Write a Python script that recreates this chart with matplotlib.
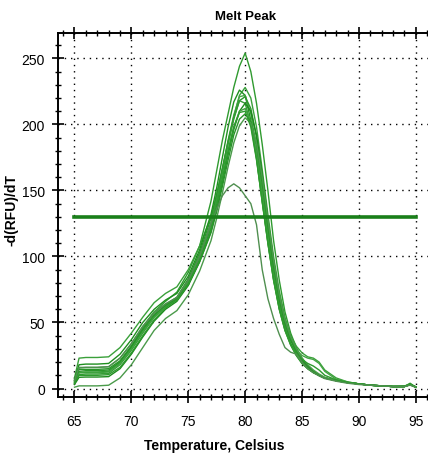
import matplotlib
matplotlib.use("Agg")
import matplotlib.pyplot as plt
from matplotlib.ticker import MultipleLocator

# Temperature grid (Celsius)
temps = [65, 65.4, 66, 67, 68, 69, 70, 71, 72, 73, 74, 75, 76, 77, 77.5, 78, 78.5, 79, 79.5, 80,
         80.5, 81, 81.5, 82, 82.5, 83, 83.5, 84, 84.5, 85, 85.5, 86, 86.5, 87, 88, 89, 90, 91,
         92, 93, 94, 94.5, 95]

# -d(RFU)/dT for each well
well_01 = [5, 12, 12.5, 12.5, 13, 20, 32, 46, 58, 66, 73, 88, 108, 142, 165, 188, 208, 228, 244, 254,
           240, 216, 185, 150, 112, 82, 58, 42, 31, 23, 17, 13, 10, 8, 6, 4.5, 3.5, 2.5, 2, 1.5, 1.5, 3, 1]
well_02 = [8, 23, 23.5, 23.5, 24, 31, 42, 54, 65, 72, 77, 90, 108, 130, 147, 166, 186, 206, 222, 228,
           220, 198, 166, 132, 100, 74, 54, 40, 32, 27, 24, 23, 20, 14, 8, 5, 3.5, 2.5, 2, 1.5, 1.5, 3.5, 1]
well_03 = [7, 18, 18.5, 18.5, 19, 26, 37, 50, 60, 67, 72, 85, 105, 132, 152, 175, 198, 217, 226, 222,
           203, 175, 142, 110, 82, 60, 44, 33, 25, 19, 15, 12, 10, 8, 6, 4.5, 3.5, 2.5, 2, 1.5, 2, 3, 1.5]
well_04 = [6, 15.5, 16, 16, 16.5, 23, 34, 47, 58, 64, 69, 82, 101, 126, 144, 166, 188, 207, 221, 222,
           208, 182, 150, 118, 88, 64, 47, 36, 29, 25, 23, 22, 19, 13, 7, 5, 3.5, 2.5, 2, 1.5, 1.5, 3, 1]
well_05 = [5, 13, 13.5, 13.5, 14, 20, 31, 44, 55, 63, 69, 83, 103, 129, 147, 167, 187, 205, 218, 221,
           212, 190, 158, 124, 93, 68, 50, 37, 28, 21, 16, 13, 10, 8, 6, 4.5, 3.5, 2.5, 2, 1.5, 1.5, 4, 1]
well_06 = [4, 10.5, 11, 11, 11.5, 18, 29, 42, 54, 62, 68, 81, 100, 124, 142, 163, 185, 204, 218, 216,
           200, 174, 141, 110, 82, 60, 44, 33, 25, 19, 15, 12, 10, 8, 6, 4.5, 3.5, 2.5, 2, 1.5, 1.5, 3, 1]
well_07 = [3, 8.5, 8.7, 8.7, 9, 15, 26, 39, 51, 60, 66, 78, 96, 119, 136, 156, 177, 196, 210, 216,
           210, 192, 162, 128, 96, 70, 51, 38, 29, 22, 17, 13, 10, 8, 6, 4.5, 3.5, 2.5, 2, 1.5, 1.5, 3, 1]
well_08 = [5, 12, 12, 12, 12.5, 19, 30, 43, 54, 62, 67, 80, 98, 122, 139, 159, 180, 198, 210, 212,
           202, 178, 146, 114, 85, 62, 46, 34, 26, 20, 16, 12, 10, 8, 6, 4.5, 3.5, 2.5, 2, 1.5, 1.5, 3, 1]
well_09 = [6, 14.5, 14.5, 14.5, 15, 21, 32, 45, 56, 63, 68, 79, 96, 118, 134, 153, 173, 192, 204, 208,
           202, 185, 155, 122, 92, 67, 49, 37, 28, 21, 16, 13, 10, 8, 6, 4.5, 3.5, 2.5, 2, 1.5, 1.5, 3, 1]
well_10 = [1, 2, 2, 2, 2.5, 8, 18, 31, 44, 53, 59, 71, 89, 112, 129, 148, 168, 186, 199, 205,
           201, 186, 160, 128, 97, 71, 52, 39, 30, 23, 18, 14, 11, 8.5, 6, 4.5, 3.5, 2.5, 2, 1.5, 1.5, 3, 1]
well_11 = [4, 10, 10, 10, 10.5, 16, 27, 40, 52, 61, 67, 79, 98, 121, 139, 159, 180, 198, 209, 210,
           198, 173, 142, 111, 83, 61, 45, 34, 27, 22, 19, 17, 14, 10, 6.5, 4.5, 3.5, 2.5, 2, 1.5, 1.5, 3, 1]
well_12 = [6, 16, 16, 16, 16.5, 23, 34, 47, 57, 64, 69, 82, 100, 125, 136, 146, 152, 155, 152, 146,
           140, 124, 90, 68, 53, 41, 31, 27.5, 26, 20, 15, 12, 9.5, 7.5, 5.5, 4, 3, 2.5, 2, 1.5, 1.5, 2.5, 1]

wells = [well_01, well_02, well_03, well_04, well_05, well_06,
         well_07, well_08, well_09, well_10, well_11, well_12]
line_colors = ['#2f9a2f', '#3aa03a', '#1f8f1f', '#44a444', '#2a962a', '#359c35',
               '#1c8a1c', '#3ea23e', '#279527', '#4a9a4a', '#2d9a2d', '#4f8f4f']

threshold = 130
threshold_range = [65, 95]

x_ticks = [65, 70, 75, 80, 85, 90, 95]
y_ticks = [0, 50, 100, 150, 200, 250]

plt.rcParams['font.family'] = ['Liberation Sans', 'DejaVu Sans']

fig = plt.figure(figsize=(4.28, 4.64), dpi=100)
W, H = 428, 464
ax = fig.add_axes([58 / W, (H - 397.7) / H, (434 - 58) / W, (397.7 - 34.3) / H])

for vals, c in zip(wells, line_colors):
    ax.plot(temps, vals, color=c, lw=1.0, zorder=3)

ax.plot(threshold_range, [threshold, threshold], color='#1a7f1a', lw=2.6, zorder=4)

ax.set_xlim(63.55, 96.6)
ax.set_ylim(-6.2, 269)
ax.set_xticks(x_ticks)
ax.set_yticks(y_ticks)
ax.xaxis.set_minor_locator(MultipleLocator(1))
ax.yaxis.set_minor_locator(MultipleLocator(10))
ax.tick_params(axis='both', which='major', direction='inout', length=9, width=1.2,
               labelsize=10, color='black')
ax.tick_params(axis='both', which='minor', direction='inout', length=5, width=1.0, color='black')
ax.tick_params(axis='x', which='both', top=True)
ax.tick_params(axis='x', which='major', pad=8)
ax.tick_params(axis='y', which='major', pad=5)

ax.grid(True, which='major', color='black', linestyle=(0, (1, 3.5)), linewidth=1.0, zorder=1)

for side in ['left', 'bottom', 'top']:
    ax.spines[side].set_linewidth(1.4)
ax.spines['right'].set_visible(False)

ax.set_title('Melt Peak', fontsize=9.5, fontweight='bold', pad=10)
ax.set_xlabel('Temperature, Celsius', fontsize=10, fontweight='bold')
ax.set_ylabel('-d(RFU)/dT', fontsize=10, fontweight='bold')
ax.xaxis.set_label_coords((214 - 58) / 376, -(439 - 397.7) / 363.4)
ax.yaxis.set_label_coords((19 - 58) / 376, (397.7 - 210) / 363.4)

fig.savefig('out.png', dpi=100)
